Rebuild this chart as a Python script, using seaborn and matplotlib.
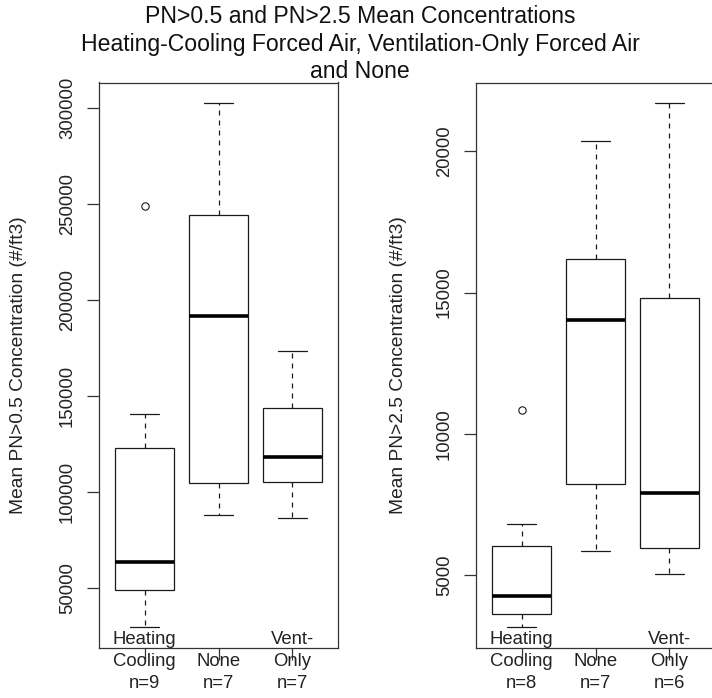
import numpy as np
import pandas as pd
import matplotlib
matplotlib.use("Agg")
import matplotlib.pyplot as plt
import seaborn as sns

sns.set_style("white")
plt.rcParams["font.family"] = ["Liberation Sans", "DejaVu Sans"]

# Ventilation system groups
systems = ["Heating-Cooling", "None", "Vent-Only"]

# Mean PN>0.5 concentrations (#/ft3) per home
pn05_heating_cooling = [30000, 41000, 48800, 56000, 63500, 97000, 123000, 140800, 249000]
pn05_none = [88200, 97000, 112400, 191400, 228000, 260200, 302300]
pn05_vent_only = [86500, 98000, 112000, 118400, 131000, 157000, 173300]

# Mean PN>2.5 concentrations (#/ft3) per home
pn25_heating_cooling = [3190, 3400, 3727, 4100, 4464, 5758, 6829, 10840]
pn25_none = [5850, 7400, 9060, 14030, 15300, 17060, 20350]
pn25_vent_only = [5060, 5788, 6500, 9352, 16633, 21690]

pn05_ticks = [50000, 100000, 150000, 200000, 250000, 300000]
pn25_ticks = [5000, 10000, 15000, 20000]

pn05_labels = ["Heating\nCooling\nn=9", "\nNone\nn=7", "Vent-\nOnly\nn=7"]
pn25_labels = ["Heating\nCooling\nn=8", "\nNone\nn=7", "Vent-\nOnly\nn=6"]

title = ("PN>0.5 and PN>2.5 Mean Concentrations\n"
         "Heating-Cooling Forced Air, Ventilation-Only Forced Air\n"
         "and None")

W, H = 712, 698
fig = plt.figure(figsize=(W / 100, H / 100), dpi=100)
fig.patch.set_facecolor("white")


def add_axes_px(x0, x1, y0, y1):
    return fig.add_axes([x0 / W, 1 - y1 / H, (x1 - x0) / W, (y1 - y0) / H])


def draw_panel(ax, groups, ticks, xlabels, ylabel, ylabel_x):
    df = pd.DataFrame({
        "system": np.repeat(systems, [len(g) for g in groups]),
        "value": np.concatenate(groups),
    })
    sns.boxplot(
        data=df, x="system", y="value", order=systems, ax=ax,
        width=0.8, whis=1.5, color="white", saturation=1,
        linecolor="#1a1a1a", linewidth=0.9,
        medianprops=dict(linewidth=2.6, color="black"),
        whiskerprops=dict(linestyle=(0, (4, 4)), linewidth=0.9),
        capprops=dict(linewidth=0.9),
        flierprops=dict(marker="o", markersize=5.3, markerfacecolor="none",
                        markeredgecolor="#1a1a1a", markeredgewidth=0.8),
    )
    lo, hi = df["value"].min(), df["value"].max()
    span = hi - lo
    ax.set_ylim(lo - 0.04 * span, hi + 0.04 * span)
    ax.set_xlim(-0.62, 2.62)

    ax.set_yticks(ticks)
    ax.set_yticklabels([str(t) for t in ticks], rotation=90, va="center",
                       fontsize=13.3, color="#222222")
    ax.set_xticks(range(len(systems)))
    ax.set_xticklabels(xlabels, fontsize=13.3, linespacing=1.4,
                       color="#222222")
    ax.tick_params(axis="y", direction="out", length=8.6, width=0.9,
                   pad=8, left=True, color="#333333")
    ax.tick_params(axis="x", direction="out", length=8.6, width=0.9,
                   pad=-20.5, bottom=True, color="#333333")
    ax.set_xlabel("")
    ax.set_ylabel(ylabel, fontsize=13.8, color="#222222")
    ax.yaxis.set_label_coords(ylabel_x, 0.5)
    for sp in ax.spines.values():
        sp.set_visible(True)
        sp.set_color("#333333")
        sp.set_linewidth(0.9)
    ax.set_facecolor("white")


ax1 = add_axes_px(99, 338, 82.5, 647.5)
ax2 = add_axes_px(476, 715, 82.5, 647.5)

draw_panel(ax1, [pn05_heating_cooling, pn05_none, pn05_vent_only],
           pn05_ticks, pn05_labels, "Mean PN>0.5 Concentration (#/ft3)", -0.303)
draw_panel(ax2, [pn25_heating_cooling, pn25_none, pn25_vent_only],
           pn25_ticks, pn25_labels, "Mean PN>2.5 Concentration (#/ft3)", -0.289)

fig.text(360 / W, 1 - 5.3 / H, title, ha="center", va="top", fontsize=16.6,
         linespacing=1.24, color="#111111")

fig.savefig("out.png", dpi=100, facecolor="white")
